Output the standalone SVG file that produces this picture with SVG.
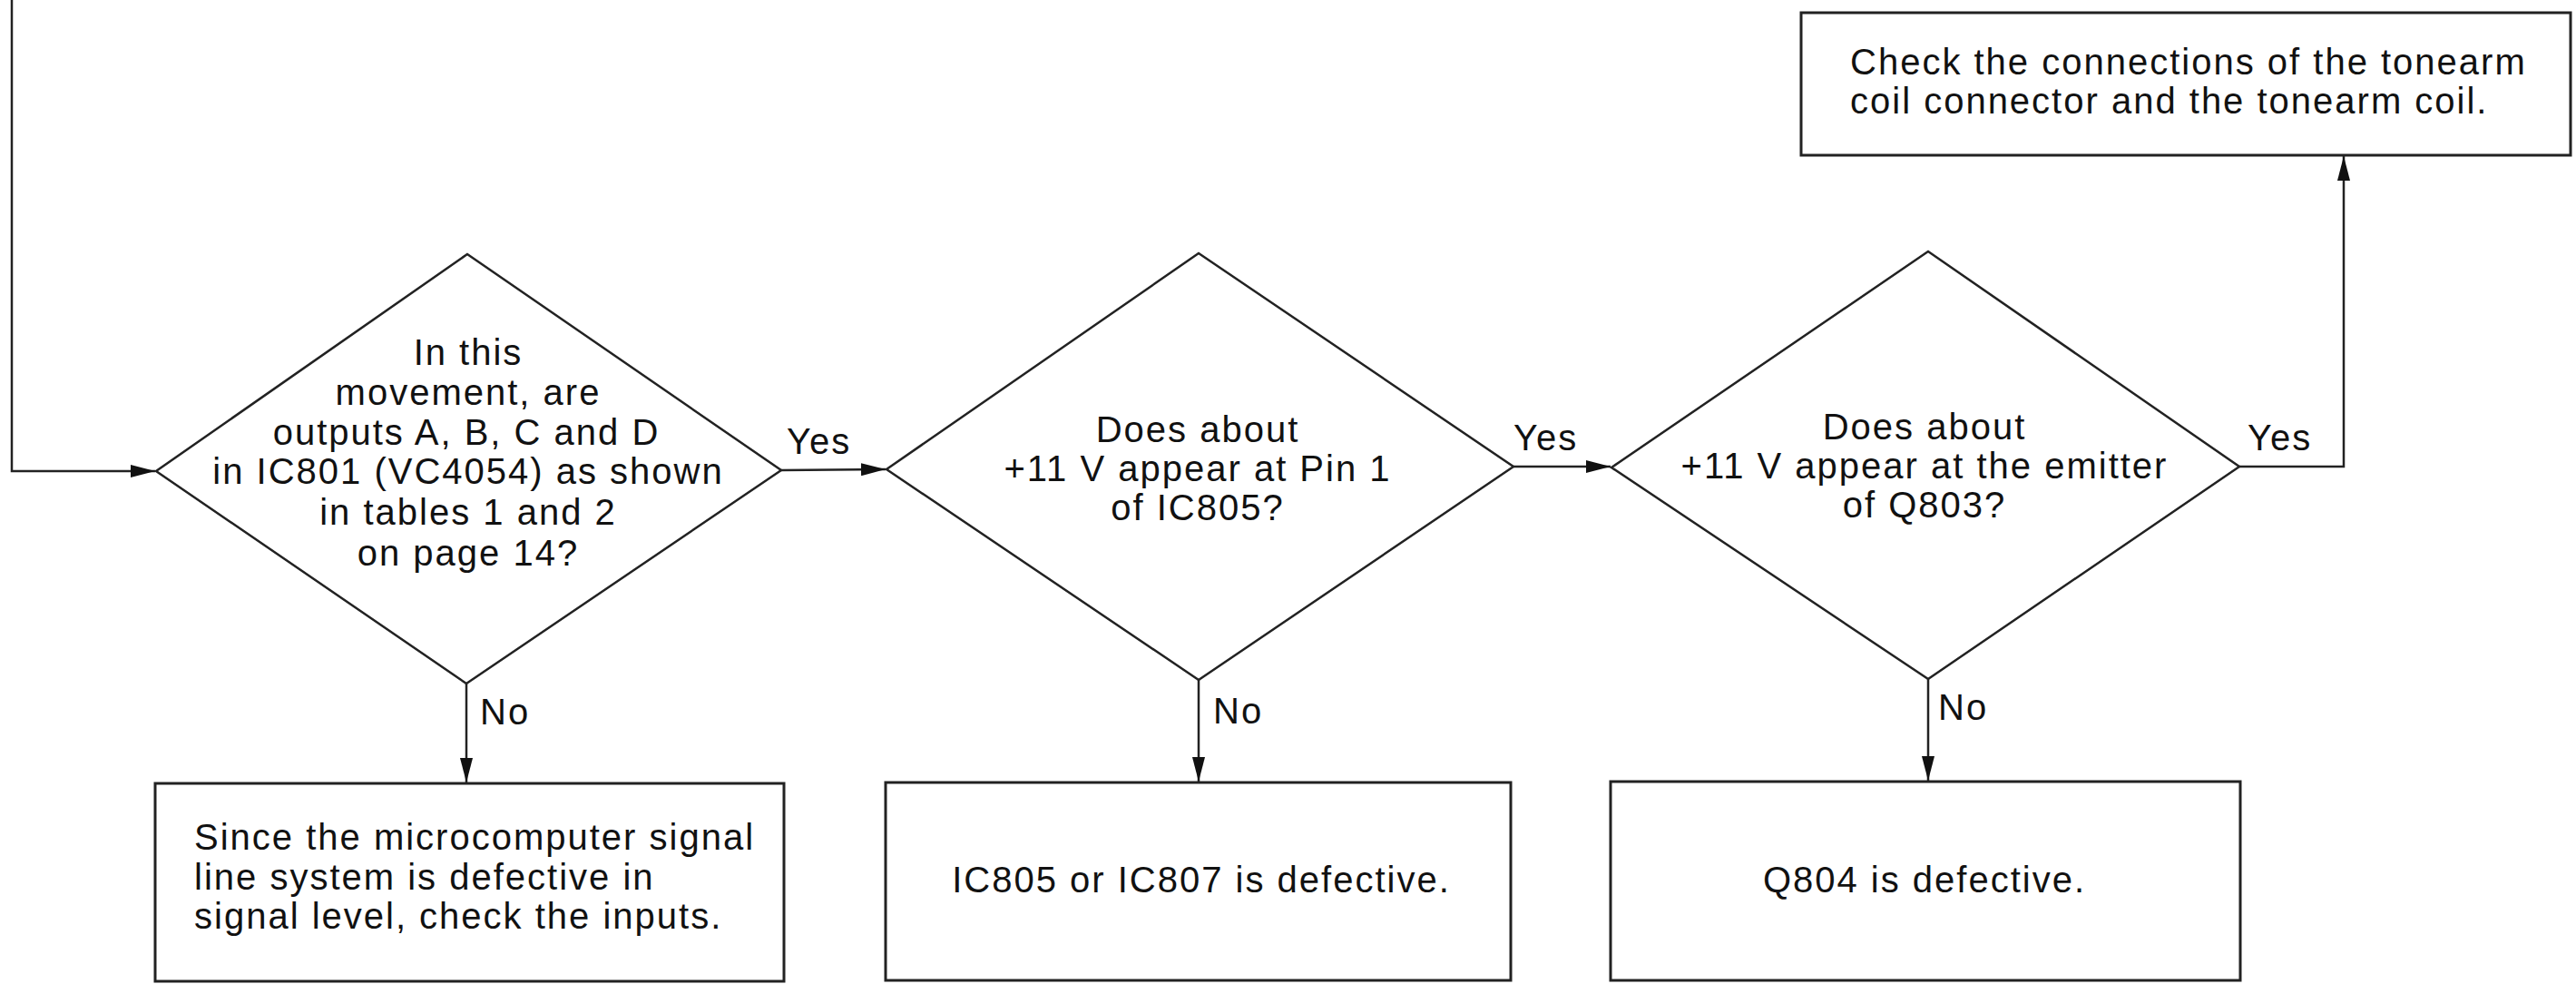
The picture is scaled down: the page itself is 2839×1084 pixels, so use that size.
<svg xmlns="http://www.w3.org/2000/svg" width="2839" height="1084" viewBox="0 0 2839 1084">
<style>
.shape{fill:#fff;stroke:#222;stroke-width:2.5}
.box{fill:#fff;stroke:#222;stroke-width:3}
.conn{fill:none;stroke:#222;stroke-width:2.5}
text{font-family:"Liberation Sans",Arial,sans-serif;font-size:40px;fill:#111;letter-spacing:2px}
.c{text-anchor:middle}
</style>
<defs>
<marker id="arr" markerUnits="userSpaceOnUse" markerWidth="27" markerHeight="14" viewBox="0 0 27 14" refX="27" refY="7" orient="auto">
<path d="M0,0 L27,7 L0,14 z" fill="#111"/>
</marker>
</defs>
<rect width="2839" height="1084" fill="#fff"/>
<g id="connectors">
<path class="conn" d="M13,0 L13,519 L171,519" marker-end="url(#arr)"/>
<path class="conn" d="M861,518 L976,517" marker-end="url(#arr)"/>
<path class="conn" d="M1668,514 L1775,514" marker-end="url(#arr)"/>
<path class="conn" d="M2468,514 L2583,514 L2583,172" marker-end="url(#arr)"/>
<path class="conn" d="M514,753 L514,862" marker-end="url(#arr)"/>
<path class="conn" d="M1321,749 L1321,861" marker-end="url(#arr)"/>
<path class="conn" d="M2125,748 L2125,860" marker-end="url(#arr)"/>
<text x="867" y="500">Yes</text>
<text x="1668" y="496">Yes</text>
<text x="2477" y="496">Yes</text>
<text x="529" y="798">No</text>
<text x="1337" y="797">No</text>
<text x="2136" y="793">No</text>
</g>
<g id="d1">
<polygon class="shape" points="515,280 861,518 514,753 172,519"/>
<text class="c" x="516" y="402">In this</text>
<text class="c" x="516" y="446">movement, are</text>
<text class="c" x="514" y="490">outputs A, B, C and D</text>
<text class="c" x="516" y="533">in IC801 (VC4054) as shown</text>
<text class="c" x="516" y="578">in tables 1 and 2</text>
<text class="c" x="516" y="623">on page 14?</text>
</g>
<g id="d2">
<polygon class="shape" points="1321,279 1668,514 1321,749 977,517"/>
<text class="c" x="1320" y="487">Does about</text>
<text class="c" x="1320" y="530">+11 V appear at Pin 1</text>
<text class="c" x="1320" y="573">of IC805?</text>
</g>
<g id="d3">
<polygon class="shape" points="2125,277 2468,514 2125,748 1776,515"/>
<text class="c" x="2121" y="484">Does about</text>
<text class="c" x="2121" y="527">+11 V appear at the emitter</text>
<text class="c" x="2121" y="570">of Q803?</text>
</g>
<g id="b1">
<rect class="box" x="171" y="863" width="693" height="218"/>
<text x="214" y="936">Since the microcomputer signal</text>
<text x="214" y="980">line system is defective in</text>
<text x="214" y="1023">signal level, check the inputs.</text>
</g>
<g id="b2">
<rect class="box" x="976" y="862" width="689" height="218"/>
<text class="c" x="1324" y="983">IC805 or IC807 is defective.</text>
</g>
<g id="b3">
<rect class="box" x="1775" y="861" width="694" height="219"/>
<text class="c" x="2121" y="983">Q804 is defective.</text>
</g>
<g id="b4">
<rect class="box" x="1985" y="14" width="848" height="157"/>
<text x="2039" y="82">Check the connections of the tonearm</text>
<text x="2039" y="125">coil connector and the tonearm coil.</text>
</g>
</svg>
